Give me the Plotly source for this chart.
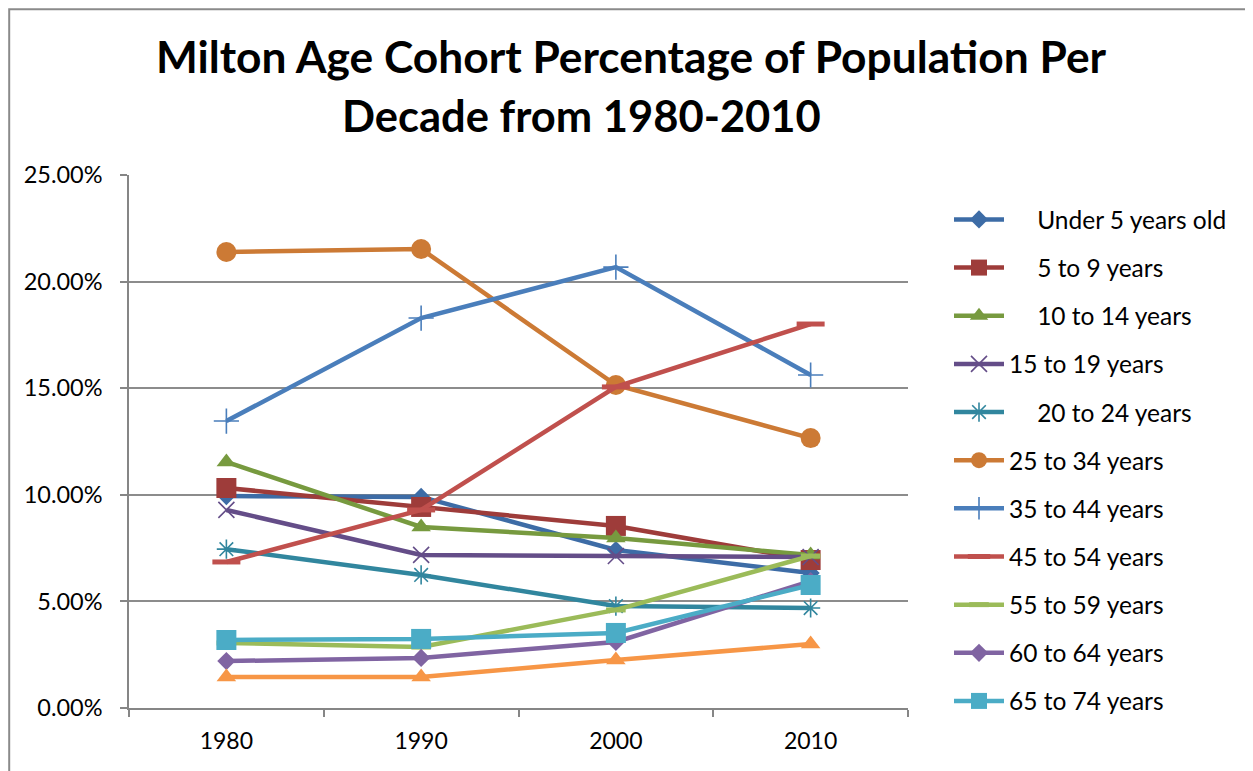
import plotly.graph_objects as go

years = ["1980", "1990", "2000", "2010"]

under_5 = [9.94, 9.90, 7.41, 6.33]
age_5_9 = [10.32, 9.43, 8.54, 6.94]
age_10_14 = [11.54, 8.49, 7.97, 7.18]
age_15_19 = [9.29, 7.18, 7.13, 7.08]
age_20_24 = [7.45, 6.24, 4.78, 4.69]
age_25_34 = [21.39, 21.53, 15.15, 12.66]
age_35_44 = [13.46, 18.29, 20.68, 15.62]
age_45_54 = [6.85, 9.29, 15.06, 18.01]
age_55_59 = [3.05, 2.86, 4.60, 7.13]
age_60_64 = [2.20, 2.35, 3.10, 5.95]
age_65_74 = [3.19, 3.24, 3.52, 5.77]
age_75_up = [1.45, 1.45, 2.25, 3.00]

names = ["Under 5 years old", "5 to 9 years", "10 to 14 years", "15 to 19 years",
         "20 to 24 years", "25 to 34 years", "35 to 44 years", "45 to 54 years",
         "55 to 59 years", "60 to 64 years", "65 to 74 years", "75 years and over"]
indent = [True, True, True, False, True, False, False, False, False, False, False, False]
series = [under_5, age_5_9, age_10_14, age_15_19, age_20_24, age_25_34, age_35_44,
          age_45_54, age_55_59, age_60_64, age_65_74, age_75_up]
colors = ["#3D6CA6", "#9E3C3A", "#779A3F", "#644D88", "#31869E", "#CC7A35",
          "#4A7EBB", "#C0504D", "#9BBB59", "#8064A2", "#4BACC6", "#F79646"]
symbols = ["diamond", "square", "triangle-up", "x-thin-open", "asterisk-open", "circle",
           "cross-thin-open", "line-ew-open", "line-ew-open", "diamond", "square", "triangle-up"]
sizes = [14, 20, 17, 16, 16, 20, 18, 20, 14, 14, 20, 17]

FONT = "Lato"
OFF = 8  # page body margin offset
W, H = 1253 - OFF, 771 - OFF

fig = go.Figure()
for i, (nm, vals) in enumerate(zip(names, series)):
    sym = symbols[i]
    openm = sym.endswith("open")
    lw = 5 if sym == "line-ew-open" else 1.6
    fig.add_trace(go.Scatter(
        x=years, y=vals, mode="lines+markers",
        name=("\u00a0" * 4 + "\u2009" + nm) if indent[i] else nm,
        legendgroup="g%d" % i,
        showlegend=(i < 11),
        line=dict(color=colors[i], width=4.5),
        marker=dict(symbol=sym, size=sizes[i], color=colors[i],
                    line=dict(color=colors[i], width=lw if openm else 0)),
    ))

# window pixel -> paper coords (plot area spans x 129..908, y 175..708 in the window)
def px_to_paper_x(px):
    return (px - 129) / 779.0

def px_to_paper_y(py):
    return (708 - py) / 533.0

fig.add_shape(type="rect", xref="paper", yref="paper",
              x0=px_to_paper_x(9.2), x1=px_to_paper_x(1270),
              y0=px_to_paper_y(790), y1=px_to_paper_y(9.2),
              line=dict(color="#8a8a8a", width=2), fillcolor="rgba(0,0,0,0)", layer="below")

fig.add_annotation(text="<b>Decade from 1980-2010</b>", xref="paper", yref="paper",
                   x=px_to_paper_x(581), y=px_to_paper_y(115), xanchor="center", yanchor="middle",
                   showarrow=False, font=dict(family=FONT, size=43.5, color="#000000"))

fig.update_layout(
    width=W, height=H,
    margin=dict(l=129 - OFF, r=W - (908 - OFF), t=175 - OFF, b=H - (708 - OFF)),
    paper_bgcolor="white", plot_bgcolor="white",
    font=dict(family=FONT, color="#000000"),
    title=dict(text="<b>Milton Age Cohort Percentage of Population Per</b>",
               x=px_to_paper_x(631), xref="paper", xanchor="center",
               y=1 - (57 - OFF) / H, yref="container", yanchor="middle",
               font=dict(family=FONT, size=44.3, color="#000000")),
    showlegend=True,
    legend=dict(x=px_to_paper_x(949), y=px_to_paper_y(197), xanchor="left", yanchor="top",
                font=dict(family=FONT, size=24.5, color="#000000"),
                traceorder="grouped", tracegroupgap=13.3, itemwidth=50,
                bgcolor="rgba(0,0,0,0)"),
)

fig.update_xaxes(type="category", range=[-0.5, 3.5], tickson="boundaries",
                 ticks="outside", ticklen=7, tickcolor="#868686", tickwidth=1.5,
                 ticklabelstandoff=12,
                 showline=True, linecolor="#868686", linewidth=1.5,
                 showgrid=False, tickfont=dict(family=FONT, size=23, color="#000000"))
fig.update_yaxes(range=[0, 25], dtick=5, tick0=0, tickformat=".2f", ticksuffix="%",
                 ticks="outside", ticklen=7, tickcolor="#868686", tickwidth=1.5,
                 ticklabelstandoff=13,
                 showline=True, linecolor="#868686", linewidth=1.5,
                 showgrid=True, gridcolor="#8c8c8c", gridwidth=1.5, zeroline=False,
                 tickfont=dict(family=FONT, size=23.5, color="#000000"))

fig.write_html("out.html")
